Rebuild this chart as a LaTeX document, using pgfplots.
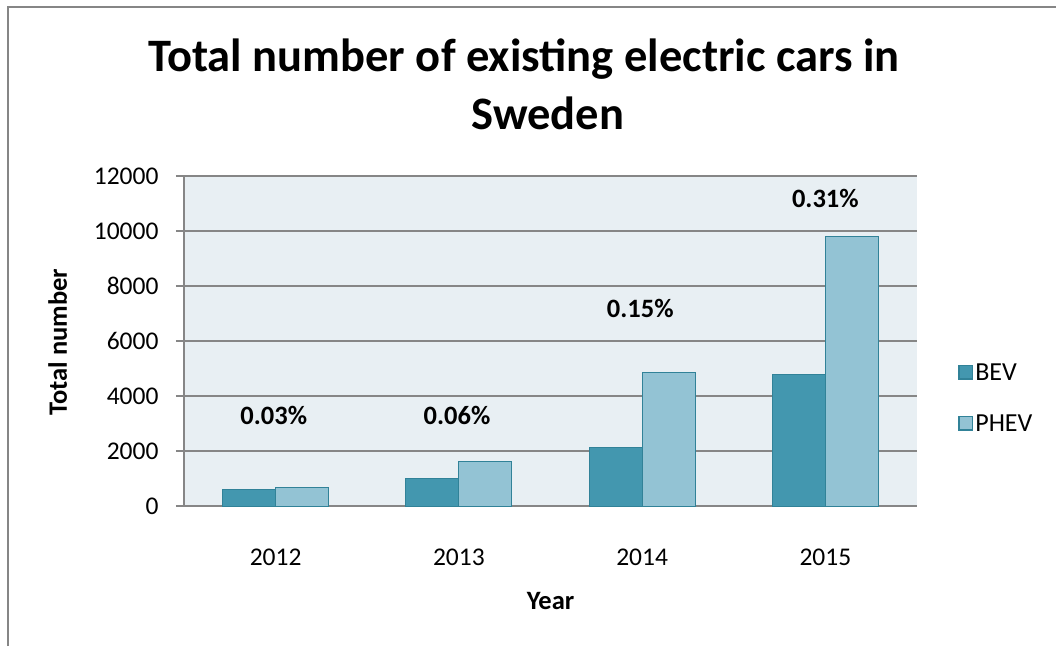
\documentclass[border=0pt]{standalone}
\usepackage{fontspec}
\setmainfont{Carlito}
\usepackage{pgfplots}
\pgfplotsset{compat=1.18}

\definecolor{bev}{RGB}{67,151,175}
\definecolor{phev}{RGB}{147,195,212}
\definecolor{barline}{RGB}{49,130,152}
\definecolor{plotbg}{RGB}{232,239,243}
\definecolor{gridc}{RGB}{134,134,134}

\begin{document}
\begin{tikzpicture}
\path[use as bounding box] (0,0) rectangle (1056pt,646pt);
% chart area frame
\draw[gridc, line width=1.5pt] (8pt,0pt) -- (8pt,639pt) -- (1056pt,639pt);
% title
\node[font=\fontsize{46.5}{56}\selectfont\bfseries, anchor=base] at (524pt,574pt) {Total number of existing electric cars in};
\node[font=\fontsize{46.5}{56}\selectfont\bfseries, anchor=base] at (548pt,516pt) {Sweden};
\begin{axis}[
  at={(184pt,140pt)}, anchor=south west,
  scale only axis, width=733pt, height=330pt,
  xmin=-0.5, xmax=3.5, ymin=0, ymax=12000,
  ybar=0pt, bar width=53pt,
  xtick={0,1,2,3}, xticklabels={2012,2013,2014,2015},
  ytick={0,2000,...,12000},
  scaled y ticks=false,
  axis x line*=bottom, axis y line*=left,
  axis line style={gridc, line width=1.5pt},
  ymajorgrids, grid style={gridc, line width=1.5pt},
  x tick style={draw=none}, y tick style={gridc, line width=1.5pt},
  tick align=outside, major tick length=8pt,
  axis background/.style={fill=plotbg},
  tick label style={font=\fontsize{25.5}{30}\selectfont},
  xticklabel style={anchor=base, yshift=-51pt},
  yticklabel style={anchor=east, xshift=-14pt},
  /pgf/number format/1000 sep={},
  /pgf/number format/assume math mode=true,
  xlabel={Year}, ylabel={Total number},
  label style={font=\fontsize{26.5}{30}\selectfont\bfseries},
  xlabel style={at={(axis description cs:0.5,-0.288)}, anchor=center},
  ylabel style={at={(axis description cs:-0.1725,0.497)}, anchor=center},
  legend style={at={(1.052,0.327)}, anchor=west, draw=none, fill=none,
    font=\fontsize{26}{30}\selectfont, row sep=29pt},
  legend cell align=left,
  legend image code/.code={\draw[#1, line width=1.5pt] (0.75pt,-6.5pt) rectangle (14.25pt,7pt);},
]
\addplot[fill=bev, draw=barline, line width=1pt] coordinates {(0,600) (1,1000) (2,2130) (3,4770)};
\addplot[fill=phev, draw=barline, line width=1pt] coordinates {(0,680) (1,1630) (2,4860) (3,9800)};
\legend{BEV,PHEV}
\node[font=\fontsize{26.5}{30}\selectfont\bfseries] at (axis cs:-0.01,3300) {0.03\%};
\node[font=\fontsize{26.5}{30}\selectfont\bfseries] at (axis cs:0.99,3300) {0.06\%};
\node[font=\fontsize{26.5}{30}\selectfont\bfseries] at (axis cs:1.99,7200) {0.15\%};
\node[font=\fontsize{26.5}{30}\selectfont\bfseries] at (axis cs:3.0,11200) {0.31\%};
\end{axis}
\end{tikzpicture}
\end{document}
